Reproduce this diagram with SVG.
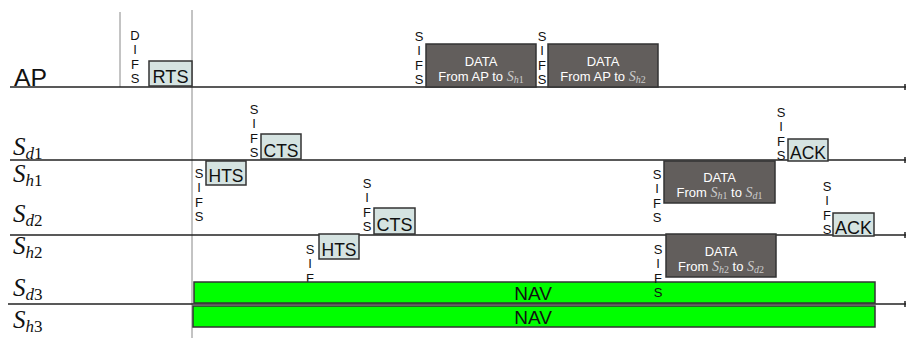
<svg xmlns="http://www.w3.org/2000/svg" width="907" height="338" viewBox="0 0 907 338">
<style>
.t{font-family:"Liberation Sans",Arial,sans-serif;fill:#111}
.sifs{font-family:"Liberation Sans",Arial,sans-serif;font-size:13px;fill:#111;text-anchor:middle}
.ctl{fill:#d5e3e1;stroke:#333;stroke-width:1.5}
.dat{fill:#625e5c;stroke:#333;stroke-width:1.5}
.nav{fill:#00ff00;stroke:#333;stroke-width:1.5}
.bl{font-family:"Liberation Sans",Arial,sans-serif;font-size:19px;fill:#111;text-anchor:middle}
.dt{font-family:"Liberation Sans",Arial,sans-serif;font-size:13px;fill:#fff;text-anchor:middle}
.m{font-family:"Liberation Serif","Times New Roman",serif;font-style:italic}
.mu{font-family:"Liberation Serif","Times New Roman",serif;font-style:normal}
.lab{font-family:"Liberation Serif","Times New Roman",serif;font-size:25px;fill:#111}
.line{stroke:#222;stroke-width:1.5;fill:none}
.grid{stroke:#888;stroke-width:1;fill:none}
</style>
<g id="connectors">
<line class="grid" x1="120" y1="12" x2="120" y2="87"/>
<line class="grid" x1="192" y1="10" x2="192" y2="338"/>
<line class="line" x1="10" y1="87" x2="906" y2="87"/>
<line class="line" x1="10" y1="160" x2="906" y2="160"/>
<line class="line" x1="10" y1="235" x2="906" y2="235"/>
<line class="line" x1="8" y1="304" x2="906" y2="304"/>
<line class="line" x1="905" y1="84" x2="905" y2="90"/>
<line class="line" x1="905" y1="157" x2="905" y2="163"/>
<line class="line" x1="905" y1="232" x2="905" y2="238"/>
<line class="line" x1="905" y1="301" x2="905" y2="307"/>
</g>
<g id="labels">
<text class="t" x="14" y="86" font-size="24" textLength="33" lengthAdjust="spacingAndGlyphs">AP</text>
<text class="lab" x="13" y="155"><tspan class="m">S</tspan><tspan class="m" font-size="17" dy="4">d</tspan><tspan class="mu" font-size="17">1</tspan></text>
<text class="lab" x="13" y="182"><tspan class="m">S</tspan><tspan class="m" font-size="17" dy="4">h</tspan><tspan class="mu" font-size="17">1</tspan></text>
<text class="lab" x="13" y="222"><tspan class="m">S</tspan><tspan class="m" font-size="17" dy="4">d</tspan><tspan class="mu" font-size="17">2</tspan></text>
<text class="lab" x="13" y="254"><tspan class="m">S</tspan><tspan class="m" font-size="17" dy="4">h</tspan><tspan class="mu" font-size="17">2</tspan></text>
<text class="lab" x="13" y="296"><tspan class="m">S</tspan><tspan class="m" font-size="17" dy="4">d</tspan><tspan class="mu" font-size="17">3</tspan></text>
<text class="lab" x="13" y="328"><tspan class="m">S</tspan><tspan class="m" font-size="17" dy="4">h</tspan><tspan class="mu" font-size="17">3</tspan></text>
</g>
<g id="difs">
<text class="sifs"><tspan x="135" y="39.5">D</tspan><tspan x="135" y="54">I</tspan><tspan x="135" y="68.5">F</tspan><tspan x="135" y="83">S</tspan></text>
</g>
<g id="rts">
<rect class="ctl" x="149" y="61" width="43" height="25"/>
<text class="bl" x="170.5" y="83" textLength="36" lengthAdjust="spacingAndGlyphs">RTS</text>
</g>
<g id="data-ap-h1">
<text class="sifs"><tspan x="419" y="40.5">S</tspan><tspan x="419" y="55">I</tspan><tspan x="419" y="69.5">F</tspan><tspan x="419" y="84">S</tspan></text>
<rect class="dat" x="426" y="44" width="110" height="43"/>
<text class="dt" x="481" y="65.5">DATA</text>
<text class="dt" x="481" y="80.5">From AP to <tspan class="m" fill="#ccc" font-size="14">S</tspan><tspan class="m" fill="#ccc" font-size="10" dy="2">h</tspan><tspan class="mu" fill="#ccc" font-size="10">1</tspan></text>
</g>
<g id="data-ap-h2">
<text class="sifs"><tspan x="542" y="40.5">S</tspan><tspan x="542" y="55">I</tspan><tspan x="542" y="69.5">F</tspan><tspan x="542" y="84">S</tspan></text>
<rect class="dat" x="548" y="44" width="110" height="43"/>
<text class="dt" x="603" y="65.5">DATA</text>
<text class="dt" x="603" y="80.5">From AP to <tspan class="m" fill="#ccc" font-size="14">S</tspan><tspan class="m" fill="#ccc" font-size="10" dy="2">h</tspan><tspan class="mu" fill="#ccc" font-size="10">2</tspan></text>
</g>
<g id="cts-d1">
<text class="sifs"><tspan x="254" y="113.5">S</tspan><tspan x="254" y="128">I</tspan><tspan x="254" y="142.5">F</tspan><tspan x="254" y="157">S</tspan></text>
<rect class="ctl" x="261" y="134" width="40" height="25"/>
<text class="bl" x="281" y="157" textLength="35" lengthAdjust="spacingAndGlyphs">CTS</text>
</g>
<g id="hts-h1">
<text class="sifs"><tspan x="199" y="177.5">S</tspan><tspan x="199" y="192">I</tspan><tspan x="199" y="206.5">F</tspan><tspan x="199" y="221">S</tspan></text>
<rect class="ctl" x="206" y="161" width="40" height="24"/>
<text class="bl" x="226" y="182" textLength="35" lengthAdjust="spacingAndGlyphs">HTS</text>
</g>
<g id="cts-d2">
<text class="sifs"><tspan x="367" y="187.5">S</tspan><tspan x="367" y="202">I</tspan><tspan x="367" y="216.5">F</tspan><tspan x="367" y="231">S</tspan></text>
<rect class="ctl" x="374" y="208" width="41" height="26"/>
<text class="bl" x="394.5" y="231" textLength="36" lengthAdjust="spacingAndGlyphs">CTS</text>
</g>
<g id="hts-h2">
<text class="sifs"><tspan x="310" y="253.5">S</tspan><tspan x="310" y="268">I</tspan><tspan x="310" y="282.5">F</tspan><tspan x="310" y="297">S</tspan></text>
<rect class="ctl" x="319" y="234" width="40" height="25"/>
<text class="bl" x="339" y="256" textLength="35" lengthAdjust="spacingAndGlyphs">HTS</text>
</g>
<g id="nav-d3">
<rect class="nav" x="194" y="282" width="681" height="21"/>
<text class="t" x="533" y="300" font-size="19" text-anchor="middle">NAV</text>
</g>
<g id="nav-h3">
<rect class="nav" x="193" y="306" width="682" height="21"/>
<text class="t" x="533" y="324" font-size="19" text-anchor="middle">NAV</text>
</g>
<g id="data-h1-d1">
<text class="sifs"><tspan x="657" y="178.5">S</tspan><tspan x="657" y="193">I</tspan><tspan x="657" y="207.5">F</tspan><tspan x="657" y="222">S</tspan></text>
<rect class="dat" x="664" y="161" width="111" height="42"/>
<text class="dt" x="719.5" y="181.5">DATA</text>
<text class="dt" x="719.5" y="196.5">From <tspan class="m" fill="#ccc" font-size="14">S</tspan><tspan class="m" fill="#ccc" font-size="10" dy="2">h</tspan><tspan class="mu" fill="#ccc" font-size="10">1</tspan><tspan dy="-2"> to </tspan><tspan class="m" fill="#ccc" font-size="14">S</tspan><tspan class="m" fill="#ccc" font-size="10" dy="2">d</tspan><tspan class="mu" fill="#ccc" font-size="10">1</tspan></text>
</g>
<g id="data-h2-d2">
<text class="sifs"><tspan x="658" y="253.5">S</tspan><tspan x="658" y="268">I</tspan><tspan x="658" y="282.5">F</tspan><tspan x="658" y="297">S</tspan></text>
<rect class="dat" x="666" y="234" width="110" height="43"/>
<text class="dt" x="721" y="255.5">DATA</text>
<text class="dt" x="721" y="270.5">From <tspan class="m" fill="#ccc" font-size="14">S</tspan><tspan class="m" fill="#ccc" font-size="10" dy="2">h</tspan><tspan class="mu" fill="#ccc" font-size="10">2</tspan><tspan dy="-2"> to </tspan><tspan class="m" fill="#ccc" font-size="14">S</tspan><tspan class="m" fill="#ccc" font-size="10" dy="2">d</tspan><tspan class="mu" fill="#ccc" font-size="10">2</tspan></text>
</g>
<g id="ack-d1">
<text class="sifs"><tspan x="781" y="116.5">S</tspan><tspan x="781" y="131">I</tspan><tspan x="781" y="145.5">F</tspan><tspan x="781" y="160">S</tspan></text>
<rect class="ctl" x="788" y="139" width="40" height="22"/>
<text class="bl" x="808" y="159" textLength="36" lengthAdjust="spacingAndGlyphs">ACK</text>
</g>
<g id="ack-d2">
<text class="sifs"><tspan x="827" y="190.5">S</tspan><tspan x="827" y="205">I</tspan><tspan x="827" y="219.5">F</tspan><tspan x="827" y="234">S</tspan></text>
<rect class="ctl" x="833" y="213" width="41" height="23"/>
<text class="bl" x="853.5" y="234" textLength="37" lengthAdjust="spacingAndGlyphs">ACK</text>
</g>
</svg>
